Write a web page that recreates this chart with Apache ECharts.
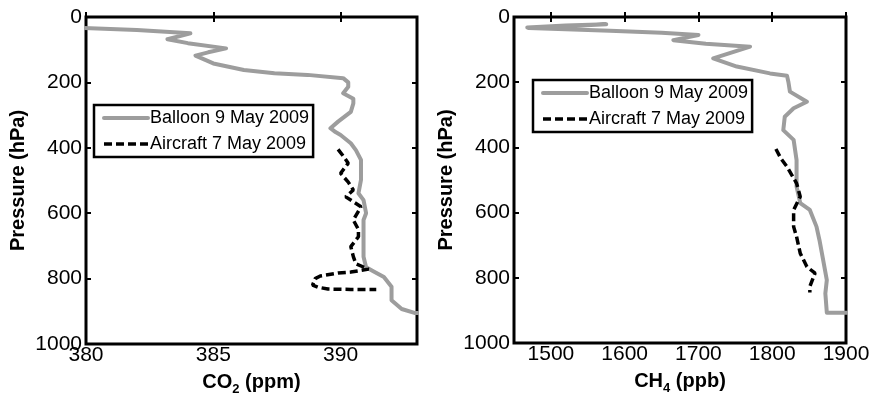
<!DOCTYPE html>
<html>
<head>
<meta charset="utf-8">
<script src="https://cdn.jsdelivr.net/npm/echarts@6/dist/echarts.min.js"></script>
<style>
  html, body { margin: 0; padding: 0; background: #fff; }
  #chart { width: 869px; height: 397px; }
</style>
</head>
<body>
<div id="chart"></div>
<script>
// profile data: [value, pressure hPa]
const balloonCO2 = [
  [379.5, 32], [382.0, 40], [384.1, 50], [383.2, 68], [384.0, 80], [385.5, 96],
  [384.8, 108], [384.3, 118], [385.0, 142], [386.2, 162], [387.4, 172], [388.7, 177],
  [390.1, 187], [390.3, 200], [390.3, 213], [390.1, 233], [390.5, 250], [390.5, 264],
  [390.4, 290], [389.9, 320], [389.6, 340], [389.8, 352], [390.0, 361], [390.4, 386],
  [390.6, 407], [390.8, 437], [390.8, 498], [390.7, 539], [390.9, 560], [391.0, 600],
  [390.9, 621], [390.9, 682], [390.9, 733], [391.0, 765], [391.3, 778], [391.7, 795],
  [392.0, 825], [392.0, 866], [392.4, 893], [392.9, 905], [393.5, 905]
]
const aircraftCO2 = [
  [389.9, 405], [390.1, 425], [390.3, 447], [390.0, 478], [390.3, 505], [390.5, 529],
  [390.2, 550], [390.8, 580], [390.5, 621], [390.7, 650], [390.7, 672], [390.4, 702],
  [390.5, 733], [390.6, 755], [391.1, 771], [390.4, 780], [389.9, 783], [389.2, 792],
  [389.0, 800], [388.9, 820], [389.1, 826], [389.5, 832], [390.4, 833], [391.4, 833]
]
const balloonCH4 = [
  [1468, 32], [1520, 26], [1575, 22], [1520, 28], [1470, 34], [1580, 42], [1650, 48],
  [1700, 55], [1666, 71], [1710, 82], [1770, 91], [1720, 127], [1752, 152], [1797, 173],
  [1820, 180], [1822, 200], [1824, 229], [1847, 260], [1829, 280], [1817, 306],
  [1815, 347], [1829, 377], [1833, 439], [1833, 520], [1838, 571], [1851, 592],
  [1860, 643], [1864, 684], [1869, 745], [1874, 807], [1872, 848], [1874, 907], [1905, 907]
]
const aircraftCH4 = [
  [1805, 405], [1812, 435], [1820, 459], [1833, 510], [1838, 551], [1829, 592],
  [1829, 643], [1833, 674], [1838, 725], [1847, 766], [1858, 786], [1851, 827], [1851, 845]
]
const co2Ticks = [380, 385, 390]
const ch4Ticks = [1500, 1600, 1700, 1800, 1900]
const pressureTicks = [0, 200, 400, 600, 800, 1000]
const seriesNames = ['Balloon 9 May 2009', 'Aircraft 7 May 2009']

const FONT = 'Liberation Sans, Arial, sans-serif'
const GRAY = '#9d9d9d'

const chart = echarts.init(document.getElementById('chart'))

// ticks pointing inward, used on all four sides
const tickStyle = { show: true, inside: true, length: 5, lineStyle: { color: '#000', width: 2 } }
const plain = (v) => String(v)

const xBottom = (grid, min, max, ticks, name) => ({
  type: 'value', gridIndex: grid, position: 'bottom', min, max,
  axisLine: { show: false }, splitLine: { show: false },
  axisTick: { ...tickStyle, customValues: ticks },
  axisLabel: { customValues: ticks, formatter: plain, color: '#000', fontSize: 21, fontFamily: FONT, margin: 1 },
  name, nameLocation: 'middle', nameGap: 25,
  nameTextStyle: {
    color: '#000', fontFamily: FONT,
    rich: {
      b: { fontSize: 20, fontWeight: 'bold', fontFamily: FONT, color: '#000' },
      s: { fontSize: 13, fontWeight: 'bold', fontFamily: FONT, color: '#000', padding: [14, 0, 0, 0] }
    }
  }
})
const xTop = (grid, min, max, ticks) => ({
  type: 'value', gridIndex: grid, position: 'top', min, max,
  axisLine: { show: false }, splitLine: { show: false },
  axisTick: { ...tickStyle, customValues: ticks },
  axisLabel: { show: false }
})
const yLeft = (grid) => ({
  type: 'value', gridIndex: grid, position: 'left', inverse: true, min: 0, max: 1000,
  axisLine: { show: false }, splitLine: { show: false },
  axisTick: { ...tickStyle, customValues: pressureTicks },
  axisLabel: { customValues: pressureTicks, formatter: plain, color: '#000', fontSize: 21, fontFamily: FONT, margin: 4 },
  name: 'Pressure (hPa)', nameLocation: 'middle', nameGap: 58,
  nameTextStyle: { color: '#000', fontSize: 20, fontWeight: 'bold', fontFamily: FONT }
})
const yRight = (grid) => ({
  type: 'value', gridIndex: grid, position: 'right', inverse: true, min: 0, max: 1000,
  axisLine: { show: false }, splitLine: { show: false },
  axisTick: { ...tickStyle, customValues: pressureTicks },
  axisLabel: { show: false }
})

const legendFor = (grid, left, top) => ({
  left, top,
  orient: 'vertical',
  borderColor: '#000', borderWidth: 2.5, padding: [4, 4, 4, 8],
  itemWidth: 44, itemHeight: 12, itemGap: 8,
  textStyle: { color: '#000', fontSize: 18, fontFamily: FONT, padding: [0, 0, 0, -3] },
  data: [
    { name: seriesNames[0] + (grid ? ' ' : ''), itemStyle: { color: 'transparent', borderWidth: 0 }, lineStyle: { color: GRAY, width: 4 } },
    { name: seriesNames[1] + (grid ? ' ' : ''), itemStyle: { color: 'transparent', borderWidth: 0 }, lineStyle: { color: '#000', width: 3.5, type: [8, 4] } }
  ],
  formatter: (n) => n.trim()
})

const lineSeries = (name, data, xi, yi, gray) => ({
  name, type: 'line', data, xAxisIndex: xi, yAxisIndex: yi,
  symbol: 'none', smooth: false, animation: false,
  lineStyle: gray
    ? { color: GRAY, width: 4, cap: 'round', join: 'round' }
    : { color: '#000', width: 3.5, type: [8, 4] },
  itemStyle: { color: gray ? GRAY : '#000' },
  z: gray ? 2 : 3
})

chart.setOption({
  backgroundColor: '#fff',
  animation: false,
  grid: [
    { left: 86, top: 17, width: 331, height: 327, outerBoundsMode: 'none', containLabel: false, show: true, borderColor: '#000', borderWidth: 3, backgroundColor: 'transparent' },
    { left: 514, top: 17, width: 332, height: 326, outerBoundsMode: 'none', containLabel: false, show: true, borderColor: '#000', borderWidth: 3, backgroundColor: 'transparent' }
  ],
  legend: [legendFor(0, 94, 105), legendFor(1, 533, 80)],
  xAxis: [
    xBottom(0, 380, 393, co2Ticks, '{b|CO}{s|2}{b| (ppm)}'),
    xTop(0, 380, 393, co2Ticks),
    xBottom(1, 1450, 1900, ch4Ticks, '{b|CH}{s|4}{b| (ppb)}'),
    xTop(1, 1450, 1900, ch4Ticks)
  ],
  yAxis: [yLeft(0), yRight(0), yLeft(1), yRight(1)],
  series: [
    lineSeries(seriesNames[0], balloonCO2, 0, 0, true),
    lineSeries(seriesNames[1], aircraftCO2, 0, 0, false),
    lineSeries(seriesNames[0] + ' ', balloonCH4, 2, 2, true),
    lineSeries(seriesNames[1] + ' ', aircraftCH4, 2, 2, false)
  ]
})
</script>
</body>
</html>
